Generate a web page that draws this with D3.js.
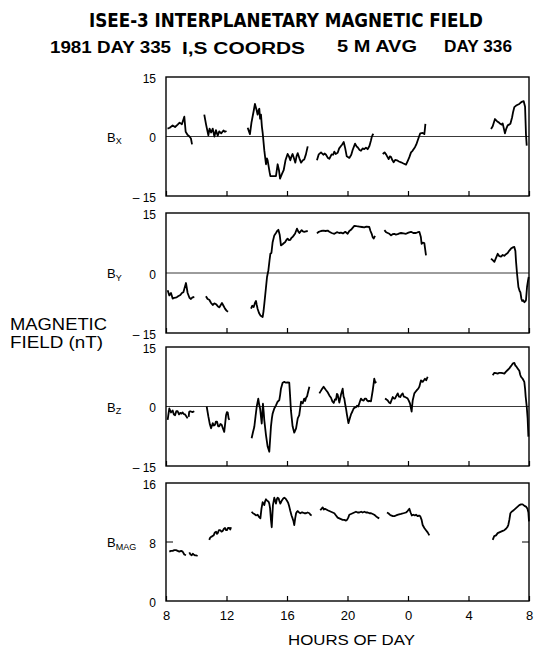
<!DOCTYPE html>
<html>
<head>
<meta charset="utf-8">
<script src="https://cdn.jsdelivr.net/npm/d3@7"></script>
<style>
body { margin: 0; background: #fff; }
svg { display: block; font-family: "Liberation Sans", Arial, sans-serif; }
</style>
</head>
<body>
<svg id="chart" width="546" height="649"></svg>
<script>
// hours counted from 00:00 of day 335 (24 = 00:00 of day 336)
var hourTicks = [8, 12, 16, 20, 24, 28, 32];
var hourLabels = ["8", "12", "16", "20", "0", "4", "8"];
var compTicks = [-15, 0, 15];
var magTicks = [0, 8, 16];

// each series is a list of gap-separated segments of [hour, nT]
var bxSegments = [
  [[8.1,2.0],[8.25,2.2],[8.44,2.8],[8.6,2.4],[8.77,3.0],[8.9,3.5],[9.05,3.1],[9.21,5.0],[9.3,1.2],[9.43,0.4],[9.55,0.0],[9.65,-0.5],[9.72,-2.0]],
  [[10.53,5.5],[10.65,3.0],[10.8,0.3],[10.88,2.0],[10.98,1.0],[11.09,2.0],[11.2,0.0],[11.3,1.6],[11.42,0.2],[11.52,1.3],[11.65,0.8],[11.8,1.5],[11.9,1.2],[12.0,1.4]],
  [[13.40,2.2],[13.55,0.6],[13.65,3.5],[13.8,6.5],[13.88,8.2],[13.98,6.8],[14.06,5.5],[14.12,6.6],[14.17,7.0],[14.22,4.5],[14.28,5.5],[14.34,2.5],[14.39,1.0],[14.5,-3.5],[14.61,-7.0],[14.67,-5.5],[14.72,-6.0],[14.85,-9.0],[14.9,-10.0],[15.1,-10.0],[15.27,-10.0],[15.38,-7.0],[15.47,-8.5],[15.54,-10.6],[15.66,-9.5],[15.78,-8.5],[15.9,-6.0],[16.04,-4.4],[16.13,-5.0],[16.22,-6.0],[16.3,-5.0],[16.37,-4.4],[16.46,-5.5],[16.55,-6.6],[16.63,-5.0],[16.71,-4.2],[16.82,-5.5],[16.93,-6.6],[17.05,-6.0],[17.14,-5.8],[17.25,-4.5],[17.37,-2.5]],
  [[17.98,-6.0],[18.1,-4.5],[18.25,-4.0],[18.4,-4.6],[18.5,-4.3],[18.58,-4.6],[18.7,-5.4],[18.8,-5.6],[18.95,-4.5],[19.05,-4.6],[19.13,-3.8],[19.22,-4.4],[19.35,-4.1],[19.45,-3.0],[19.57,-2.4],[19.65,-2.0],[19.75,-1.4],[19.85,-3.0],[19.95,-5.0],[20.12,-5.4],[20.25,-4.6],[20.34,-3.4],[20.5,-1.8],[20.6,-2.5],[20.67,-2.7],[20.8,-3.4],[20.89,-3.6],[21.0,-3.0],[21.11,-3.2],[21.22,-2.8],[21.33,-3.2],[21.45,-2.4],[21.55,-1.0],[21.6,-0.2],[21.66,0.4],[21.71,0.7]],
  [[22.33,-4.4],[22.45,-4.0],[22.55,-4.5],[22.72,-5.7],[22.8,-5.0],[22.88,-5.2],[22.97,-6.0],[23.05,-6.5],[23.15,-5.9],[23.27,-6.0],[23.4,-6.3],[23.54,-6.5],[23.7,-6.8],[23.87,-7.1],[24.0,-6.0],[24.09,-5.2],[24.2,-4.0],[24.3,-3.6],[24.46,-2.7],[24.55,-2.0],[24.64,-1.0],[24.75,0.2],[24.81,0.8],[24.97,0.9],[25.08,0.6],[25.12,2.0],[25.15,3.2]],
  [[29.49,1.9],[29.6,2.6],[29.75,4.4],[29.85,4.0],[29.93,3.7],[30.02,3.5],[30.1,3.2],[30.2,3.0],[30.26,3.3],[30.41,0.8],[30.5,2.0],[30.59,2.8],[30.68,3.0],[30.77,3.2],[30.88,4.8],[30.95,6.2],[31.03,7.4],[31.15,7.8],[31.25,8.0],[31.36,8.2],[31.47,8.6],[31.56,8.8],[31.65,8.9],[31.74,7.5],[31.8,0.5],[31.85,-2.3]]
];

var bySegments = [
  [[8.11,-4.3],[8.22,-5.6],[8.33,-5.0],[8.44,-6.4],[8.55,-6.2],[8.7,-6.1],[8.8,-5.8],[8.95,-5.5],[9.05,-5.0],[9.15,-4.8],[9.32,-2.5],[9.43,-5.0],[9.55,-6.2],[9.65,-6.5],[9.75,-6.1],[9.87,-6.0]],
  [[10.64,-5.8],[10.75,-6.5],[10.86,-6.7],[10.98,-7.5],[11.09,-8.0],[11.2,-7.6],[11.31,-7.8],[11.42,-8.3],[11.52,-8.6],[11.62,-8.0],[11.7,-7.5],[11.8,-8.2],[11.9,-8.9],[12.0,-9.4],[12.1,-9.7]],
  [[13.62,-8.9],[13.7,-8.2],[13.8,-8.5],[13.88,-7.5],[13.95,-7.0],[14.0,-8.0],[14.06,-9.0],[14.15,-10.0],[14.24,-10.6],[14.39,-11.0],[14.45,-9.5],[14.5,-7.7],[14.6,-4.0],[14.68,-1.0],[14.77,0.7],[14.84,3.0],[14.9,4.8],[14.97,5.0],[15.05,7.7],[15.16,9.4],[15.27,10.0],[15.35,10.5],[15.43,10.8],[15.52,9.5],[15.6,6.9],[15.71,7.2],[15.8,7.5],[15.87,7.7],[15.95,8.2],[16.04,8.6],[16.13,8.2],[16.22,8.3],[16.3,8.8],[16.37,9.0],[16.45,9.4],[16.53,9.8],[16.6,10.5],[16.66,11.1],[16.74,10.4],[16.82,10.0],[16.9,10.4],[16.97,10.7],[17.05,10.4],[17.14,10.3],[17.25,10.4],[17.37,10.5]],
  [[17.98,9.9],[18.1,10.3],[18.25,10.5],[18.4,10.6],[18.55,10.5],[18.69,10.6],[18.8,10.3],[18.95,10.0],[19.13,9.8],[19.3,10.2],[19.45,10.0],[19.57,10.1],[19.7,9.9],[19.85,10.3],[20.01,9.8],[20.12,10.5],[20.23,10.8],[20.34,11.3],[20.45,11.8],[20.6,11.7],[20.78,11.6],[20.95,11.5],[21.11,11.4],[21.25,11.6],[21.44,11.5],[21.52,10.5],[21.6,9.8],[21.66,9.0],[21.73,8.6],[21.82,9.3]],
  [[22.44,10.7],[22.55,10.2],[22.66,10.0],[22.77,9.8],[22.88,9.4],[22.98,9.7],[23.09,9.8],[23.2,9.6],[23.32,9.7],[23.43,9.9],[23.54,10.0],[23.7,9.9],[23.87,9.8],[24.03,10.1],[24.2,10.3],[24.35,10.0],[24.53,10.0],[24.65,10.2],[24.75,10.3],[24.85,9.0],[24.9,7.3],[24.98,7.6],[25.08,7.5],[25.14,5.8],[25.19,4.4]],
  [[29.49,3.6],[29.6,3.2],[29.71,2.8],[29.82,3.8],[29.93,4.8],[30.04,4.2],[30.15,4.1],[30.26,4.5],[30.37,4.3],[30.48,4.7],[30.59,5.0],[30.7,5.6],[30.81,6.1],[30.92,6.4],[31.03,6.5],[31.1,5.5],[31.14,3.0],[31.21,-0.2],[31.3,-3.5],[31.38,-4.5],[31.43,-4.8],[31.5,-6.5],[31.55,-7.0],[31.62,-6.8],[31.69,-7.3],[31.76,-7.1],[31.8,-6.8],[31.87,-3.5],[31.94,-1.8],[31.98,-1.0]]
];

var bzSegments = [
  [[8.11,-3.4],[8.18,-1.5],[8.22,-0.5],[8.33,-1.5],[8.44,-1.0],[8.52,-2.0],[8.6,-2.2],[8.68,-1.2],[8.77,-1.2],[8.86,-2.0],[8.95,-1.6],[9.03,-1.8],[9.1,-1.5],[9.18,-1.9],[9.26,-2.0],[9.35,-2.5],[9.43,-3.0]],
  [[9.5,-2.6],[9.53,-1.4],[9.6,-1.2],[9.75,-1.4],[9.87,-1.2]],
  [[10.69,0.0],[10.8,-2.5],[10.9,-4.5],[10.98,-5.5],[11.09,-4.2],[11.17,-4.8],[11.24,-4.6],[11.3,-3.8],[11.37,-3.8],[11.45,-5.0],[11.52,-5.0],[11.6,-4.4],[11.68,-4.6],[11.77,-5.6],[11.85,-6.4],[11.92,-4.0],[11.97,-2.2],[12.03,-1.4],[12.08,-1.5],[12.14,-3.0],[12.19,-3.4]],
  [[13.66,-8.0],[13.75,-6.5],[13.84,-5.1],[13.92,-2.5],[14.0,0.0],[14.1,2.0],[14.16,0.5],[14.22,-0.5],[14.33,-4.3],[14.38,-1.0],[14.41,0.7],[14.46,-1.5],[14.5,-3.5],[14.61,-7.2],[14.72,-10.1],[14.83,-11.4],[14.88,-8.5],[14.94,-5.0],[15.0,-3.0],[15.05,-1.8],[15.16,-0.5],[15.27,0.3],[15.38,1.2],[15.49,1.6],[15.55,3.0],[15.6,4.5],[15.71,6.0],[15.82,6.2],[15.93,6.0],[16.05,6.1],[16.15,6.0],[16.2,3.0],[16.26,-1.0],[16.37,-5.0],[16.48,-6.6],[16.6,-5.5],[16.71,-3.0],[16.81,-2.2],[16.93,1.2],[17.04,0.8],[17.14,2.0],[17.2,1.4],[17.26,2.2],[17.33,2.6],[17.37,3.3],[17.48,5.0]],
  [[18.14,3.3],[18.28,4.2],[18.42,5.0],[18.55,4.3],[18.69,3.6],[18.8,2.8],[18.91,2.2],[19.0,1.3],[19.09,0.9],[19.17,1.8],[19.24,1.7],[19.3,3.2],[19.35,3.0],[19.46,1.0],[19.57,3.0],[19.68,4.5],[19.74,2.5],[19.79,2.0],[19.85,0.5],[19.9,-0.5],[19.96,-2.0],[20.06,-4.2],[20.15,-3.0],[20.23,-2.0],[20.33,-1.2],[20.41,-0.5],[20.5,-0.2],[20.56,-0.2],[20.63,0.2],[20.71,0.0],[20.8,1.0],[20.89,2.0],[20.98,1.6],[21.07,1.5],[21.15,2.0],[21.22,2.0],[21.3,1.5],[21.37,1.3],[21.45,1.4],[21.55,1.3],[21.67,4.1],[21.72,5.5],[21.77,7.0],[21.84,6.0],[21.9,6.3]],
  [[22.48,2.0],[22.57,1.8],[22.66,1.5],[22.75,1.0],[22.83,0.8],[22.99,2.4],[23.07,2.0],[23.14,2.0],[23.22,2.6],[23.32,3.3],[23.4,2.5],[23.49,2.4],[23.57,3.0],[23.65,3.3],[23.72,2.5],[23.8,2.4],[23.9,2.2],[23.98,2.0],[24.05,1.5],[24.13,0.8],[24.2,-0.5],[24.24,-1.3],[24.27,0.0],[24.31,1.5],[24.42,3.3],[24.5,3.7],[24.6,4.2],[24.68,4.5],[24.75,5.0],[24.86,6.6],[24.97,6.2],[25.05,6.6],[25.12,7.0],[25.2,6.6],[25.3,7.5]],
  [[29.6,7.9],[29.71,8.5],[29.82,8.4],[29.93,8.3],[30.04,8.5],[30.15,8.5],[30.26,8.4],[30.37,8.3],[30.48,8.8],[30.59,9.2],[30.7,9.6],[30.77,10.0],[30.85,10.4],[30.92,10.8],[31.03,11.0],[31.1,10.3],[31.14,10.2],[31.25,9.6],[31.36,9.0],[31.42,8.0],[31.47,7.5],[31.58,7.0],[31.69,6.2],[31.74,4.5],[31.78,2.5],[31.85,0.0],[31.91,-3.0],[31.96,-7.6]]
];

var bmagSegments = [
  [[8.22,6.7],[8.33,6.8],[8.44,6.8],[8.55,6.9],[8.66,6.9],[8.77,6.8],[8.88,6.7],[9.0,6.8],[9.1,6.7],[9.21,6.3],[9.32,6.2]],
  [[9.54,6.6],[9.62,6.3],[9.7,6.2],[9.77,6.4],[9.83,6.3],[9.9,6.2],[9.98,6.2],[10.09,6.1]],
  [[10.86,8.3],[10.92,8.6],[10.98,8.7],[11.07,8.8],[11.15,8.9],[11.23,9.3],[11.31,9.4],[11.37,9.1],[11.42,9.2],[11.5,9.6],[11.59,9.6],[11.67,9.4],[11.75,9.5],[11.83,9.8],[11.9,9.9],[11.97,9.6],[12.03,9.6],[12.1,9.9],[12.19,9.9],[12.25,9.7],[12.3,10.0]],
  [[13.66,12.1],[13.75,11.9],[13.84,11.8],[13.95,11.6],[14.06,11.7],[14.15,11.4],[14.24,11.2],[14.31,12.5],[14.39,13.4],[14.45,13.2],[14.5,13.0],[14.55,13.5],[14.61,13.8],[14.69,13.6],[14.77,13.5],[14.83,13.2],[14.88,12.6],[14.94,11.0],[14.99,10.0],[15.03,11.5],[15.07,13.0],[15.16,14.0],[15.22,13.6],[15.27,13.2],[15.33,13.8],[15.38,14.0],[15.45,13.9],[15.49,13.6],[15.56,13.2],[15.61,13.4],[15.65,13.6],[15.75,13.9],[15.82,14.0],[15.9,13.9],[16.0,13.6],[16.08,13.3],[16.15,12.8],[16.22,12.2],[16.3,11.6],[16.37,11.2],[16.43,10.8],[16.48,10.3],[16.54,11.2],[16.6,11.9],[16.66,12.1],[16.71,12.2],[16.8,12.0],[16.88,11.9],[16.96,12.0],[17.04,12.0],[17.15,11.9],[17.26,11.9],[17.36,12.0],[17.48,11.9],[17.55,11.7],[17.63,11.6]],
  [[18.2,12.3],[18.28,12.5],[18.36,12.7],[18.44,12.4],[18.51,12.5],[18.6,12.4],[18.69,12.3],[18.8,12.2],[18.91,12.1],[19.02,12.0],[19.13,11.9],[19.24,11.6],[19.35,11.3],[19.46,11.2],[19.57,11.1],[19.68,11.0],[19.79,11.0],[19.9,10.9],[19.97,11.0],[20.05,11.3],[20.12,11.7],[20.23,11.8],[20.34,11.9],[20.45,12.0],[20.56,12.1],[20.67,12.0],[20.78,12.0],[20.9,12.1],[21.0,12.0],[21.12,12.1],[21.22,12.0],[21.34,12.0],[21.45,11.9],[21.56,11.9],[21.67,11.8],[21.77,11.7],[21.88,11.5],[22.0,11.3],[22.1,11.2]],
  [[22.61,12.0],[22.7,11.9],[22.8,11.7],[22.88,11.6],[23.0,11.5],[23.1,11.5],[23.21,11.6],[23.35,11.7],[23.54,11.8],[23.7,11.9],[23.87,12.0],[23.97,12.2],[24.09,12.5],[24.17,12.0],[24.25,11.6],[24.35,11.7],[24.45,11.6],[24.53,11.7],[24.65,11.5],[24.73,11.6],[24.81,11.5],[24.9,11.0],[24.97,10.3],[25.08,9.9],[25.19,9.6],[25.3,9.3],[25.41,8.9]],
  [[29.6,8.3],[29.7,8.8],[29.82,8.9],[29.93,9.2],[30.04,9.3],[30.15,9.4],[30.26,9.5],[30.37,9.6],[30.48,9.8],[30.56,10.0],[30.63,10.3],[30.7,11.0],[30.77,11.9],[30.85,12.1],[30.92,12.2],[31.03,12.4],[31.14,12.6],[31.25,12.8],[31.36,13.0],[31.47,13.1],[31.58,13.1],[31.7,12.9],[31.8,12.8],[31.9,12.5],[31.96,12.0],[32.0,10.8]]
];

var svg = d3.select("#chart");

var x = d3.scaleLinear().domain([8, 32]).range([166, 529]);

var panels = [
  { sub: "X",   segs: bxSegments,   ticks: compTicks, top: 77,  bottom: 196, zero: true },
  { sub: "Y",   segs: bySegments,   ticks: compTicks, top: 213, bottom: 333, zero: true },
  { sub: "Z",   segs: bzSegments,   ticks: compTicks, top: 347, bottom: 466, zero: true },
  { sub: "MAG", segs: bmagSegments, ticks: magTicks,  top: 483, bottom: 601, zero: false }
];

function fmtY(v) {
  return v < 0 ? "\u2013 " + Math.abs(v) : String(v);
}

panels.forEach(function (p, i) {
  var y = d3.scaleLinear()
    .domain(d3.extent(p.ticks))
    .range([p.bottom, p.top]);
  var g = svg.append("g");

  // reference line / mid ticks
  if (p.zero) {
    g.append("line")
      .attr("x1", x.range()[0]).attr("x2", x.range()[1])
      .attr("y1", y(0)).attr("y2", y(0))
      .attr("stroke", "#222").attr("stroke-width", 0.9);
  } else {
    [[x.range()[0], 7], [x.range()[1], -7]].forEach(function (t) {
      g.append("line")
        .attr("x1", t[0]).attr("x2", t[0] + t[1])
        .attr("y1", y(8)).attr("y2", y(8))
        .attr("stroke", "#000").attr("stroke-width", 1);
    });
  }

  // hour ticks pointing up from the bottom edge
  var xAxis = d3.axisBottom(x)
    .tickValues(hourTicks)
    .tickSize(-5)
    .tickPadding(10)
    .tickFormat(function (d, k) { return i === 3 ? hourLabels[k] : ""; });
  var xa = g.append("g")
    .attr("transform", "translate(0," + p.bottom + ")")
    .call(xAxis);
  xa.select(".domain").remove();
  xa.selectAll(".tick line").attr("stroke", "#000").attr("stroke-width", 1.2);
  xa.selectAll(".tick text")
    .attr("fill", "#000")
    .style("font-size", "13px")
    .style("font-family", "'Liberation Sans', Arial, sans-serif");

  // value labels
  var yAxis = d3.axisLeft(y)
    .tickValues(p.ticks)
    .tickSize(0)
    .tickPadding(10)
    .tickFormat(fmtY);
  var ya = g.append("g")
    .attr("transform", "translate(" + x.range()[0] + ",1.5)")
    .call(yAxis);
  ya.select(".domain").remove();
  ya.selectAll(".tick text")
    .attr("fill", "#000")
    .style("font-size", "12px")
    .style("font-family", "'Liberation Sans', Arial, sans-serif");

  // frame
  g.append("rect")
    .attr("x", x.range()[0]).attr("y", p.top)
    .attr("width", x.range()[1] - x.range()[0])
    .attr("height", p.bottom - p.top)
    .attr("fill", "none")
    .attr("stroke", "#000")
    .attr("stroke-width", 1.4);

  // data
  var line = d3.line()
    .x(function (d) { return x(d[0]); })
    .y(function (d) { return y(d[1]); });
  g.selectAll("path.trace")
    .data(p.segs)
    .join("path")
    .attr("class", "trace")
    .attr("d", line)
    .attr("fill", "none")
    .attr("stroke", "#000")
    .attr("stroke-width", 1.8)
    .attr("stroke-linejoin", "round");

  // component label
  var midY = p.zero ? y(0) : y(8);
  var lbl = g.append("text")
    .attr("x", 107)
    .attr("y", midY + 5)
    .style("font-size", "13px")
    .attr("fill", "#000");
  lbl.append("tspan").text("B");
  lbl.append("tspan")
    .attr("dy", 2.5)
    .style("font-size", "9px")
    .text(p.sub);
});

// titles
svg.append("text")
  .attr("x", 89).attr("y", 27)
  .attr("textLength", 394)
  .attr("lengthAdjust", "spacingAndGlyphs")
  .style("font-family", "'DejaVu Sans Condensed', 'Liberation Sans Narrow', 'Liberation Sans', sans-serif")
  .style("font-weight", "bold")
  .style("font-size", "19px")
  .text("ISEE-3 INTERPLANETARY MAGNETIC FIELD");

var sub = [
  ["1981 DAY 335", 50, 121, 53],
  ["I,S COORDS", 182, 123, 54],
  ["5 M AVG", 337, 80, 52],
  ["DAY 336", 444, 68, 52]
];
svg.selectAll("text.sub")
  .data(sub)
  .join("text")
  .attr("class", "sub")
  .attr("x", function (d) { return d[1]; })
  .attr("y", function (d) { return d[3]; })
  .attr("textLength", function (d) { return d[2]; })
  .attr("lengthAdjust", "spacingAndGlyphs")
  .style("font-weight", "bold")
  .style("font-size", "16px")
  .text(function (d) { return d[0]; });

svg.append("text")
  .attr("x", 10).attr("y", 330)
  .attr("textLength", 97)
  .attr("lengthAdjust", "spacingAndGlyphs")
  .style("font-size", "16px")
  .text("MAGNETIC");
svg.append("text")
  .attr("x", 10).attr("y", 348)
  .attr("textLength", 93)
  .attr("lengthAdjust", "spacingAndGlyphs")
  .style("font-size", "16px")
  .text("FIELD (nT)");

svg.append("text")
  .attr("x", 288).attr("y", 645)
  .attr("textLength", 127)
  .attr("lengthAdjust", "spacingAndGlyphs")
  .style("font-size", "15px")
  .text("HOURS OF DAY");
</script>
</body>
</html>
